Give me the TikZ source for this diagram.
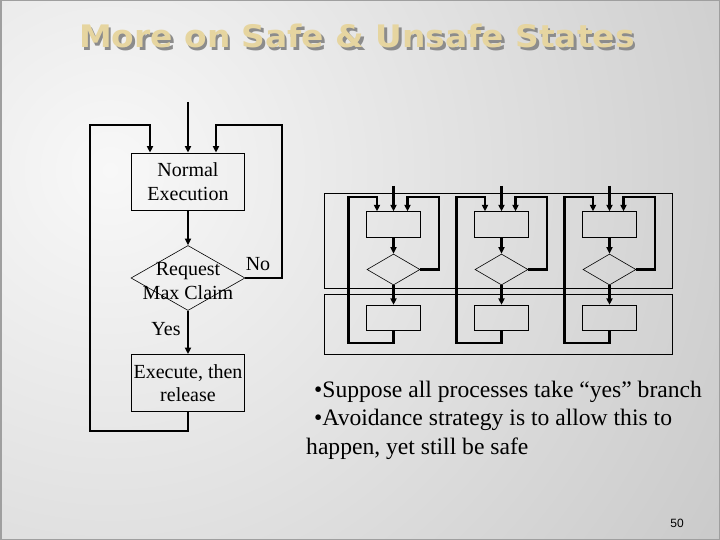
\documentclass[tikz,border=0pt]{standalone}
\usepackage{fontspec}
\setmainfont{Liberation Serif}
\newfontfamily\titlefont{DejaVu Sans}
\newfontfamily\numfont{Liberation Sans}
\usetikzlibrary{arrows.meta,shapes.geometric}

\definecolor{titletan}{RGB}{230,213,160}
\definecolor{titleshade}{RGB}{140,140,140}
\definecolor{bglight}{RGB}{248,248,248}
\definecolor{bgdark}{RGB}{166,166,166}
\pgfdeclareradialshading{slidebg}{\pgfpoint{0bp}{0bp}}{color(0bp)=(bglight); color(42bp)=(bgdark); color(50bp)=(bgdark)}

\tikzset{
  flowbox/.style={draw, line width=0.8, minimum width=113, minimum height=57, inner sep=0pt, align=center, font=\fontsize{20}{23.5}\selectfont},
  flowdec/.style={draw, diamond, line width=0.6, minimum width=114, minimum height=65, inner sep=0pt},
  flowtext/.style={inner sep=0pt, align=center, font=\fontsize{20}{23.5}\selectfont},
  flowline/.style={line width=2.3, -{Triangle[length=6.5pt,width=6pt]}},
  minibox/.style={draw, line width=0.8, minimum width=54, minimum height=25.5, inner sep=0pt},
  minidec/.style={draw, diamond, line width=0.6, minimum width=53, minimum height=31, inner sep=0pt},
  miniline/.style={line width=2.3, -{Triangle[length=6.5pt,width=6pt]}},
  titletext/.style={inner sep=0pt, font=\titlefont\bfseries\fontsize{31}{36}\selectfont, xscale=1.06},
  bullettext/.style={inner sep=0pt, anchor=base west, font=\fontsize{23.6}{28.5}\selectfont}
}

\begin{document}
\begin{tikzpicture}[x=1pt,y=1pt,yscale=-1]
  \useasboundingbox (0,0) rectangle (720,540);

  % slide background
  \begin{scope}
    \clip (0,0) rectangle (720,540);
    \shade[shading=slidebg] (110,170) circle (760);
  \end{scope}
  \draw[gray!75, line width=1.5] (0.75,0.75) rectangle (719.25,539.25);

  % Title
  \node[titletext, text=titleshade] (titleshadow) at (359.5,38.5) {More on Safe \& Unsafe States};
  \node[titletext, text=titletan] (title) at (357,36) {More on Safe \& Unsafe States};

  % one process, left
  \coordinate (entry) at (188,102);
  \node[flowbox] (normal) at (188,181.5) {Normal\\Execution};
  \node[flowdec] (req) at (188,278) {};
  \node[flowtext] (reqtext) at (188,281) {Request\\Max Claim};
  \node[flowbox] (exec) at (188,383) {Execute, then\\release};

  \draw[flowline] (entry) -- (normal);
  \draw[flowline] (normal) -- (req);
  \draw[flowline] (req) -- (exec);
  \draw[flowline] (exec.south) -- ++(0,19) -| (90,125) -| ([xshift=-38]normal.north);
  \draw[flowline] (req.east) -| (282,125) -| ([xshift=28]normal.north);

  % Text Node
  \node[flowtext, anchor=base] (yes) at (166,335) {Yes};
  % Text Node
  \node[flowtext, anchor=base] (no) at (258,270) {No};

  % three processes, right
  \draw[line width=0.8] (324.5,193) rectangle (672.5,288.5);
  \draw[line width=0.8] (324.5,294.5) rectangle (672.5,354.5);
  \foreach \i/\cx in {1/393.5, 2/501.5, 3/609.5} {
    \coordinate (in\i) at (\cx,186);
    \node[minibox] (top\i) at (\cx,224.5) {};
    \node[minidec] (dec\i) at (\cx,269.5) {};
    \node[minibox] (bot\i) at (\cx,318) {};
    \draw[miniline] (in\i) -- (top\i);
    \draw[miniline] (top\i) -- (dec\i);
    \draw[miniline] (dec\i) -- (bot\i);
    \draw[miniline] (bot\i.south) -- ++(0,11.5) -| (\cx-45,197) -| ([xshift=-16.5]top\i.north);
    \draw[miniline] (dec\i.east) -| (\cx+45.5,197) -| ([xshift=14]top\i.north);
  }

  % bullets
  \node[bullettext] (pt1) at (314,397) {•Suppose all processes take “yes” branch};
  \node[bullettext] (pt2) at (314,425.5) {•Avoidance strategy is to allow this to};
  \node[bullettext] (pt3) at (306,454) {happen, yet still be safe};

  % page number
  \node[inner sep=0pt, font=\numfont\fontsize{12}{14}\selectfont] (pagenum) at (677,523) {50};
\end{tikzpicture}
\end{document}
